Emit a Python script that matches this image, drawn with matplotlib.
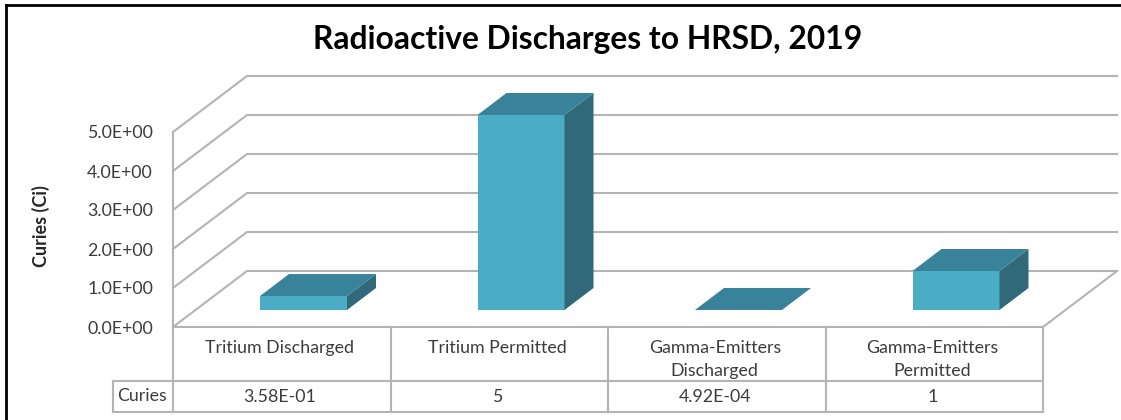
import matplotlib
matplotlib.use('Agg')
import matplotlib.pyplot as plt
from matplotlib.patches import Polygon

categories = [['Tritium Discharged'], ['Tritium Permitted'],
              ['Gamma-Emitters', 'Discharged'], ['Gamma-Emitters', 'Permitted']]
values = [0.358, 5, 0.000492, 1]
value_labels = ['3.58E-01', '5', '4.92E-04', '1']
y_ticks = [0, 1, 2, 3, 4, 5]
y_tick_labels = ['0.0E+00', '1.0E+00', '2.0E+00', '3.0E+00', '4.0E+00', '5.0E+00']

plt.rcParams['font.family'] = ['Lato', 'DejaVu Sans']

# the whole figure is one axes in pixels, the fake 3d is drawn by hand
fig = plt.figure(figsize=(11.21, 4.2), dpi=100)
ax = fig.add_axes([0, 0, 1, 1])
ax.set_xlim(0, 1121)
ax.set_ylim(420, 0)
ax.axis('off')

x0, x1 = 173, 1043
y0 = 327
unit = 39.0
back_dx, back_dy = 74, -56
grid = '#b4b4b4'
text_col = '#3c3c3c'
line_w = 1.5
font_s = 12.8


def py(v, base=y0):
    return base - v * unit


# gridlines and walls
for t in y_ticks:
    y = py(t)
    ax.plot([x0, x0 + back_dx, x1 + back_dx], [y, y + back_dy, y + back_dy], color=grid, lw=line_w, zorder=1)
    ax.text(153, y + 1.5, y_tick_labels[t], ha='right', va='center', fontsize=font_s, color=text_col)
ax.plot([x0, x0], [py(5), 412], color=grid, lw=line_w, zorder=1)
ax.plot([x1, x1 + back_dx], [y0, y0 + back_dy], color=grid, lw=line_w, zorder=1)

# bars
bar_w = 87
bar_base = 310
bar_dx, bar_dy = 29, -22
cell_w = (x1 - x0) / 4
for i, v in enumerate(values):
    left = x0 + cell_w * i + 87
    right = left + bar_w
    top = py(v, bar_base)
    ax.add_patch(Polygon([(left, bar_base), (right, bar_base), (right, top), (left, top)], fc='#4bacc6', ec='none', zorder=3))
    ax.add_patch(Polygon([(right, bar_base), (right + bar_dx, bar_base + bar_dy), (right + bar_dx, top + bar_dy), (right, top)],
                         fc='#31697b', ec='none', zorder=3))
    ax.add_patch(Polygon([(left, top), (right, top), (right + bar_dx, top + bar_dy), (left + bar_dx, top + bar_dy)],
                         fc='#38839a', ec='none', zorder=3))

# data table
table_mid, table_bot = 381, 412
ax.plot([x0, x1], [y0, y0], color=grid, lw=line_w, zorder=1)
ax.plot([113, x1], [table_mid, table_mid], color=grid, lw=line_w, zorder=1)
ax.plot([113, x1], [table_bot, table_bot], color=grid, lw=line_w, zorder=1)
ax.plot([113, 113], [table_mid, table_bot], color=grid, lw=line_w, zorder=1)
for i in range(1, 5):
    xc = x0 + cell_w * i
    ax.plot([xc, xc], [y0, table_bot], color=grid, lw=line_w, zorder=1)
for i, cat in enumerate(categories):
    xc = x0 + cell_w * (i + 0.5) - 2
    for j, line in enumerate(cat):
        ax.text(xc, 348 + j * 23, line, ha='center', va='center', fontsize=font_s, color=text_col)
    ax.text(xc, 397, value_labels[i], ha='center', va='center', fontsize=font_s, color=text_col)
ax.text(142, 396, 'Curies', ha='center', va='center', fontsize=font_s, color=text_col)

ax.text(41, 226, 'Curies (Ci)', rotation=90, ha='center', va='center', fontsize=13, fontweight='bold', color='#262626')
ax.text(588, 39, 'Radioactive Discharges to HRSD, 2019', ha='center', va='center', fontsize=22.9, fontweight='bold', color='black')

# outer frame
ax.plot([6, 6], [420, 5], color='black', lw=2, zorder=5)
ax.plot([6, 1121], [5, 5], color='black', lw=2, zorder=5)

fig.savefig('out.png', dpi=100)
